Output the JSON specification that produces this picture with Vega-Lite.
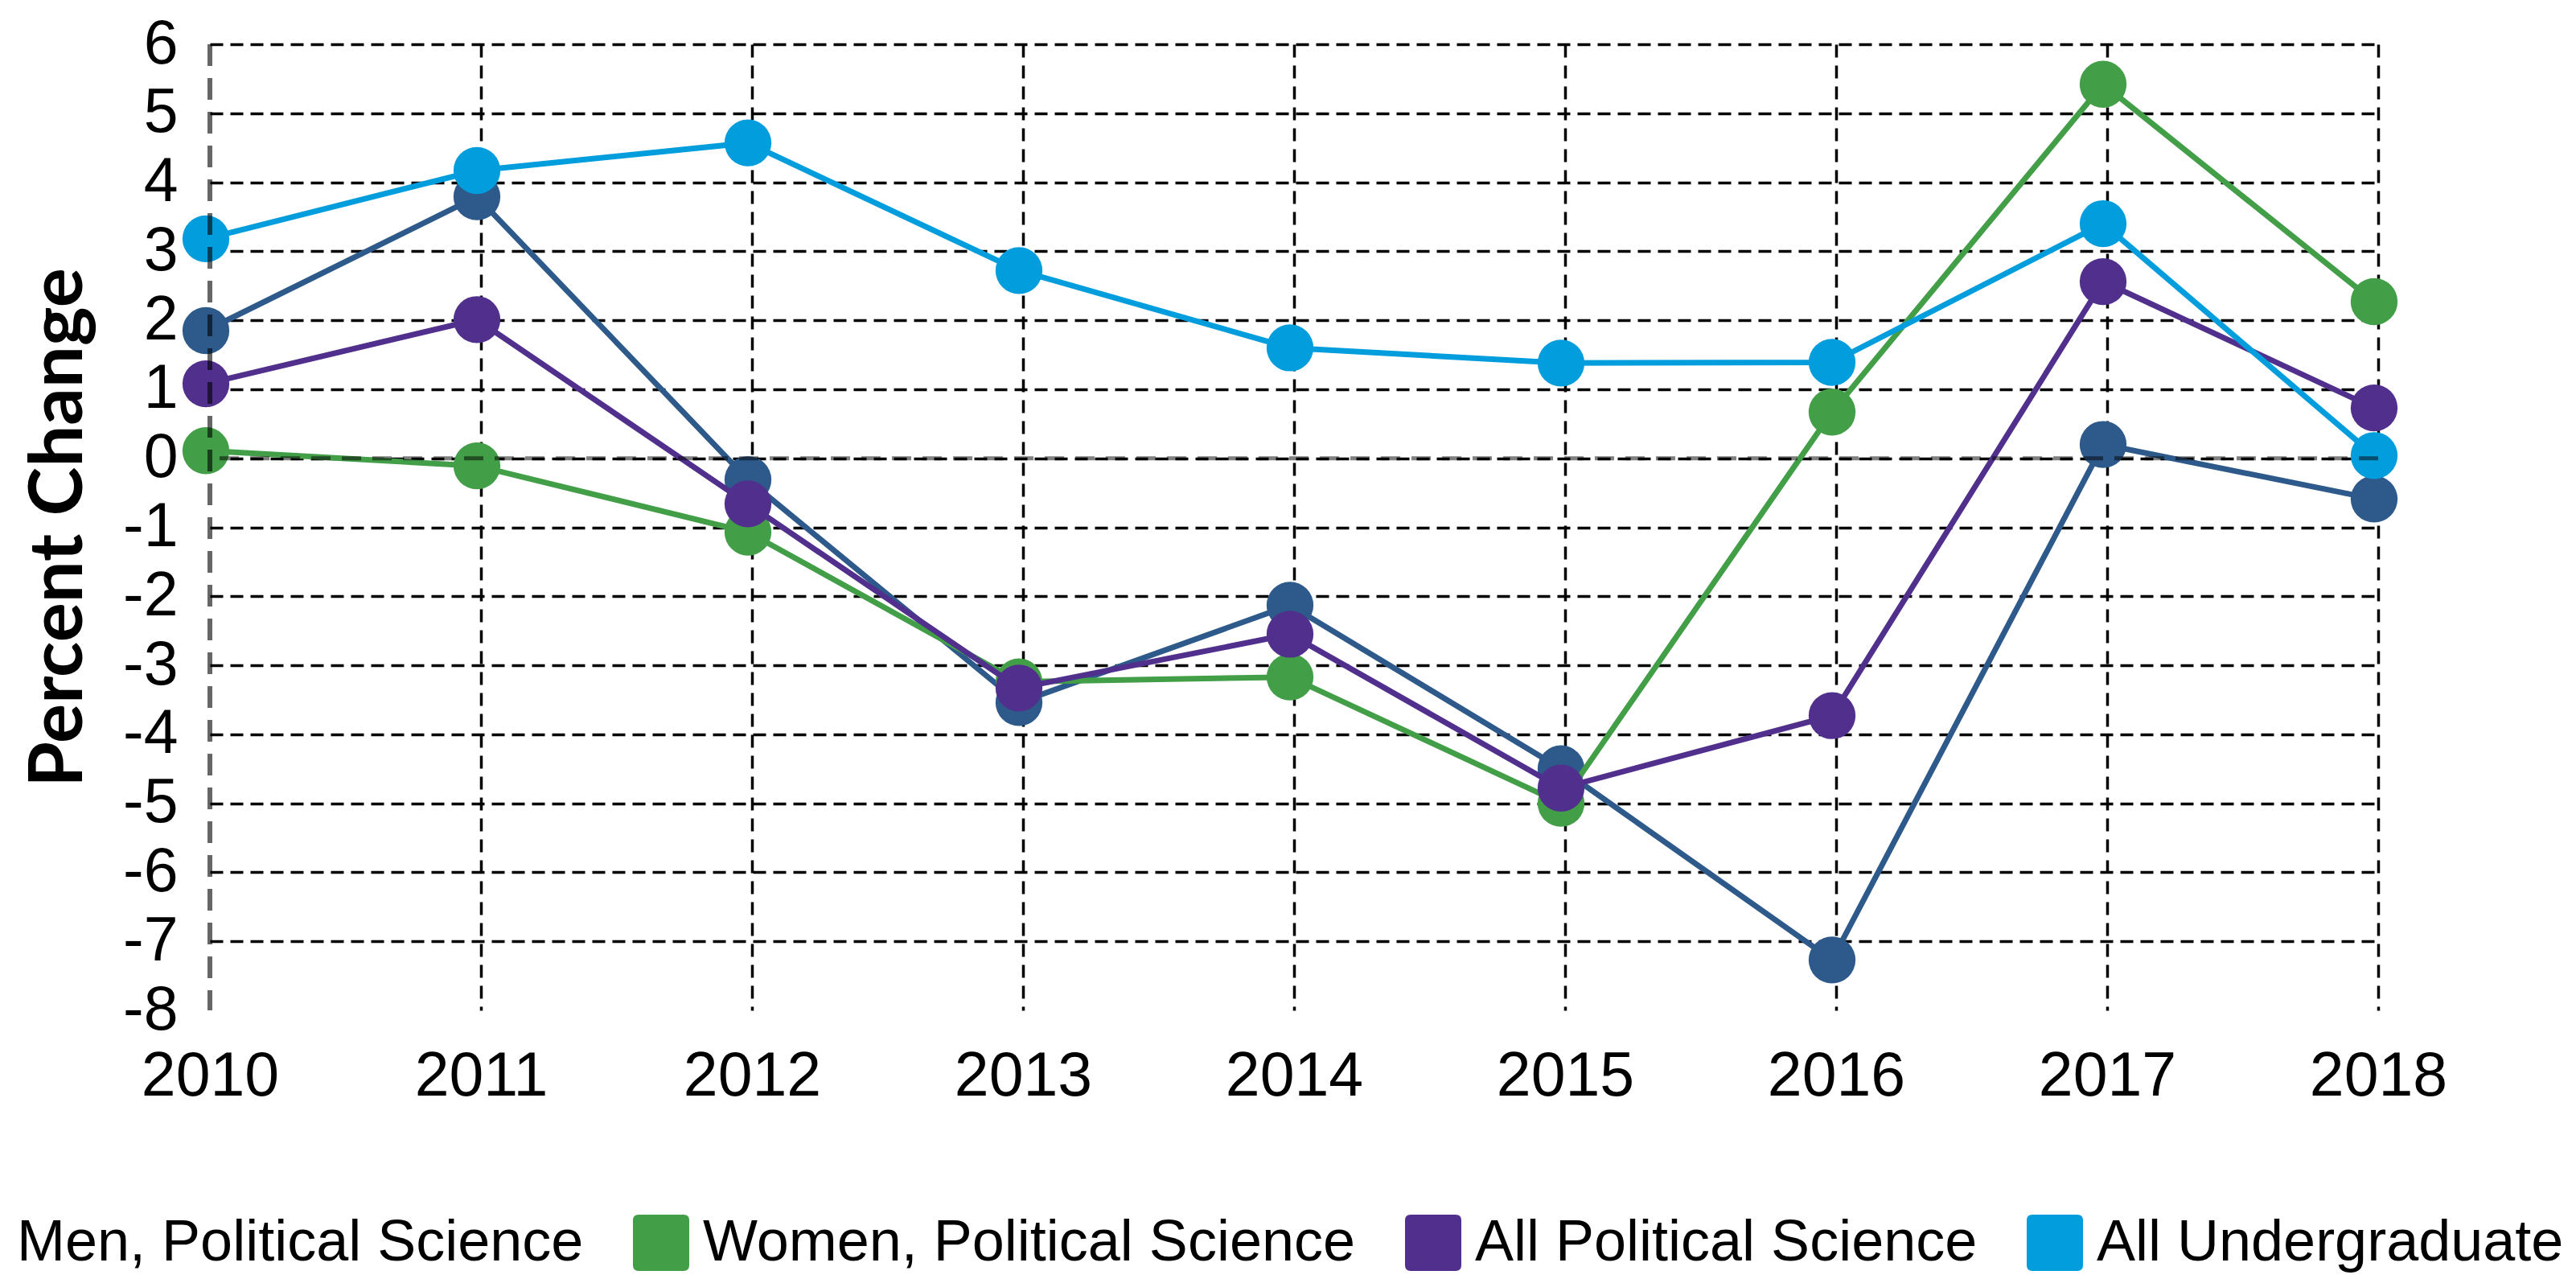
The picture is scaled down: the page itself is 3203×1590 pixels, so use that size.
{
  "$schema": "https://vega.github.io/schema/vega-lite/v6.json",
  "autosize": {"type": "none"},
  "width": 2696,
  "height": 1201,
  "padding": {"left": 261, "top": 55, "right": 246, "bottom": 334},
  "background": "white",
  "config": {
    "view": {"stroke": null},
    "axis": {"labelColor": "black", "labelFont": "Liberation Sans", "labelFontSize": 77, "domain": false, "ticks": false}
  },
  "data": {
    "values": [
      {"year": 2010, "series": "Men, Political Science", "value": 1.85},
      {"year": 2011, "series": "Men, Political Science", "value": 3.79},
      {"year": 2012, "series": "Men, Political Science", "value": -0.31},
      {"year": 2013, "series": "Men, Political Science", "value": -3.54},
      {"year": 2014, "series": "Men, Political Science", "value": -2.13},
      {"year": 2015, "series": "Men, Political Science", "value": -4.5},
      {"year": 2016, "series": "Men, Political Science", "value": -7.27},
      {"year": 2017, "series": "Men, Political Science", "value": 0.2},
      {"year": 2018, "series": "Men, Political Science", "value": -0.59},
      {"year": 2010, "series": "Women, Political Science", "value": 0.11},
      {"year": 2011, "series": "Women, Political Science", "value": -0.11},
      {"year": 2012, "series": "Women, Political Science", "value": -1.07},
      {"year": 2013, "series": "Women, Political Science", "value": -3.24},
      {"year": 2014, "series": "Women, Political Science", "value": -3.17},
      {"year": 2015, "series": "Women, Political Science", "value": -5.0},
      {"year": 2016, "series": "Women, Political Science", "value": 0.67},
      {"year": 2017, "series": "Women, Political Science", "value": 5.42},
      {"year": 2018, "series": "Women, Political Science", "value": 2.27},
      {"year": 2010, "series": "All Political Science", "value": 1.08},
      {"year": 2011, "series": "All Political Science", "value": 2.01},
      {"year": 2012, "series": "All Political Science", "value": -0.66},
      {"year": 2013, "series": "All Political Science", "value": -3.33},
      {"year": 2014, "series": "All Political Science", "value": -2.55},
      {"year": 2015, "series": "All Political Science", "value": -4.78},
      {"year": 2016, "series": "All Political Science", "value": -3.73},
      {"year": 2017, "series": "All Political Science", "value": 2.56},
      {"year": 2018, "series": "All Political Science", "value": 0.73},
      {"year": 2010, "series": "All Undergraduate", "value": 3.18},
      {"year": 2011, "series": "All Undergraduate", "value": 4.17},
      {"year": 2012, "series": "All Undergraduate", "value": 4.57},
      {"year": 2013, "series": "All Undergraduate", "value": 2.72},
      {"year": 2014, "series": "All Undergraduate", "value": 1.6},
      {"year": 2015, "series": "All Undergraduate", "value": 1.38},
      {"year": 2016, "series": "All Undergraduate", "value": 1.39},
      {"year": 2017, "series": "All Undergraduate", "value": 3.4},
      {"year": 2018, "series": "All Undergraduate", "value": 0.04}
    ]
  },
  "encoding": {
    "x": {
      "field": "year", "type": "quantitative",
      "scale": {"domain": [2010, 2018], "nice": false, "zero": false},
      "axis": {
        "title": null,
        "values": [2010, 2011, 2012, 2013, 2014, 2015, 2016, 2017, 2018],
        "format": "d",
        "labelFlush": false,
        "labelPadding": 44,
        "grid": true,
        "gridColor": "black",
        "gridWidth": 3.5,
        "gridDash": [16, 10],
        "gridOpacity": {"condition": {"test": "datum.value === 2010", "value": 0}, "value": 1}
      }
    },
    "y": {
      "field": "value", "type": "quantitative",
      "scale": {"domain": [-8, 6], "nice": false, "zero": false},
      "axis": {
        "title": "Percent Change",
        "titleFont": "Lato",
        "titleFontWeight": "bold",
        "titleFontSize": 92,
        "titleColor": "black",
        "titlePadding": 32,
        "values": [-8, -7, -6, -5, -4, -3, -2, -1, 0, 1, 2, 3, 4, 5, 6],
        "labelExpr": "datum.value + ''",
        "labelPadding": 40,
        "grid": true,
        "gridColor": "black",
        "gridWidth": 3.5,
        "gridDash": [16, 9],
        "gridOpacity": {"condition": {"test": "datum.value === -8", "value": 0}, "value": 1}
      }
    },
    "color": {
      "field": "series", "type": "nominal",
      "scale": {
        "domain": ["Men, Political Science", "Women, Political Science", "All Political Science", "All Undergraduate"],
        "range": ["#2D5A8A", "#429E47", "#51308D", "#029DDD"]
      },
      "legend": {
        "title": null,
        "orient": "none",
        "direction": "horizontal",
        "legendX": -328,
        "legendY": 1454,
        "padding": 0,
        "symbolType": "M -0.8 -1 L 0.8 -1 Q 1 -1 1 -0.8 L 1 0.8 Q 1 1 0.8 1 L -0.8 1 Q -1 1 -1 0.8 L -1 -0.8 Q -1 -1 -0.8 -1 Z",
        "symbolSize": 4900,
        "symbolStrokeWidth": 0,
        "symbolOpacity": 1,
        "labelFont": "Liberation Sans",
        "labelFontSize": 72,
        "labelColor": "black",
        "labelOffset": 16,
        "labelLimit": 0,
        "columnPadding": 60,
        "encode": {
          "symbols": {"update": {
            "fill": {"scale": "color", "field": "value"},
            "stroke": {"value": "transparent"},
            "opacity": {"signal": "datum.value === 'Men, Political Science' ? 0 : 1"}
          }}
        }
      }
    }
  },
  "layer": [
    {"transform": [{"filter": "datum.series === 'Men, Political Science'"}], "mark": {"type": "line", "strokeWidth": 7, "xOffset": -5}},
    {"transform": [{"filter": "datum.series === 'Men, Political Science'"}], "mark": {"type": "point", "shape": "circle", "filled": true, "opacity": 1, "size": 3400, "strokeWidth": 0, "xOffset": -5}},
    {"transform": [{"filter": "datum.series === 'Women, Political Science'"}], "mark": {"type": "line", "strokeWidth": 7, "xOffset": -5}},
    {"transform": [{"filter": "datum.series === 'Women, Political Science'"}], "mark": {"type": "point", "shape": "circle", "filled": true, "opacity": 1, "size": 3400, "strokeWidth": 0, "xOffset": -5}},
    {"transform": [{"filter": "datum.series === 'All Political Science'"}], "mark": {"type": "line", "strokeWidth": 7, "xOffset": -5}},
    {"transform": [{"filter": "datum.series === 'All Political Science'"}], "mark": {"type": "point", "shape": "circle", "filled": true, "opacity": 1, "size": 3400, "strokeWidth": 0, "xOffset": -5}},
    {"transform": [{"filter": "datum.series === 'All Undergraduate'"}], "mark": {"type": "line", "strokeWidth": 7, "xOffset": -5}},
    {"transform": [{"filter": "datum.series === 'All Undergraduate'"}], "mark": {"type": "point", "shape": "circle", "filled": true, "opacity": 1, "size": 3400, "strokeWidth": 0, "xOffset": -5}},
    {
      "data": {"values": [{"x": 2010}]},
      "mark": {"type": "rule", "color": "black", "opacity": 0.6, "strokeWidth": 6, "strokeDash": [27, 15]},
      "encoding": {"x": {"field": "x", "type": "quantitative"}, "y": null, "color": null}
    },
    {
      "data": {"values": [{"y": 0}]},
      "mark": {"type": "rule", "color": "black", "opacity": 0.5, "strokeWidth": 5, "strokeDash": [24, 14]},
      "encoding": {"y": {"field": "y", "type": "quantitative"}, "x": null, "color": null}
    }
  ]
}
